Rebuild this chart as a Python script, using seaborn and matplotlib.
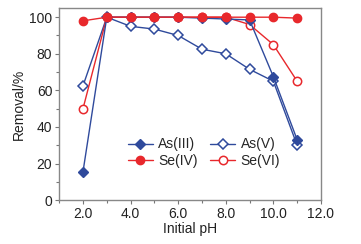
import numpy as np
import pandas as pd
import matplotlib
matplotlib.use("Agg")
import matplotlib.pyplot as plt
from matplotlib.ticker import MultipleLocator, FormatStrFormatter
import seaborn as sns

ph = [2, 3, 4, 5, 6, 7, 8, 9, 10, 11]
as_iii = [15.5, 100, 100, 100, 100, 99.5, 99, 98.5, 67.5, 33]
as_v = [62.5, 100, 95, 93.5, 90, 82.5, 80, 71.5, 65, 30]
se_iv = [98, 100, 100, 100, 100, 100, 100, 100, 100, 99.5]
se_vi = [50, 100, 100, 100, 100, 100, 100, 96, 85, 65]

blue = "#2f4a9c"
red = "#e8282c"

sns.set_style("ticks")
plt.rcParams["font.family"] = ["Liberation Sans", "DejaVu Sans"]

fig = plt.figure(figsize=(3.61, 2.44), dpi=100)
ax = fig.add_axes([0.164, 0.18, 0.725, 0.787])

# open markers first, filled ones on top
series = [
    ("As(V)", as_v, blue, "D", False),
    ("Se(VI)", se_vi, red, "o", False),
    ("As(III)", as_iii, blue, "D", True),
    ("Se(IV)", se_iv, red, "o", True),
]
for name, vals, c, m, filled in series:
    df = pd.DataFrame({"pH": ph, "val": vals})
    sns.lineplot(data=df, x="pH", y="val", ax=ax, color=c, marker=m,
                 markersize=6 if m == "o" else 5.5, linewidth=1.0,
                 markerfacecolor=c if filled else "white",
                 markeredgecolor=c, markeredgewidth=1.0 if filled else 1.1,
                 label=name)

ax.set_xlim(1, 12)
ax.set_ylim(0, 105)
ax.xaxis.set_major_locator(MultipleLocator(2))
ax.xaxis.set_minor_locator(MultipleLocator(1))
ax.xaxis.set_major_formatter(FormatStrFormatter("%.1f"))
ax.yaxis.set_major_locator(MultipleLocator(20))
ax.yaxis.set_minor_locator(MultipleLocator(10))
ax.tick_params(which="major", length=3, width=0.8, color="#777777", labelsize=10,
               labelcolor="#222222", pad=2)
ax.tick_params(which="minor", length=2, width=0.8, color="#777777")
for s in ax.spines.values():
    s.set_color("#888888")
    s.set_linewidth(1.0)

ax.set_xlabel("Initial pH", fontsize=10, color="#222222", labelpad=1)
ax.set_ylabel("Removal/%", fontsize=10, color="#222222", labelpad=2)

handles, labels = ax.get_legend_handles_labels()
lookup = dict(zip(labels, handles))
order = ["As(III)", "Se(IV)", "As(V)", "Se(VI)"]
ax.legend([lookup[k] for k in order], order, ncol=2, frameon=False, fontsize=10,
          loc="lower left", bbox_to_anchor=(0.235, 0.13), handlelength=1.8,
          handletextpad=0.4, columnspacing=0.9, labelspacing=0.2, borderpad=0)

fig.savefig("out.png", dpi=100)
